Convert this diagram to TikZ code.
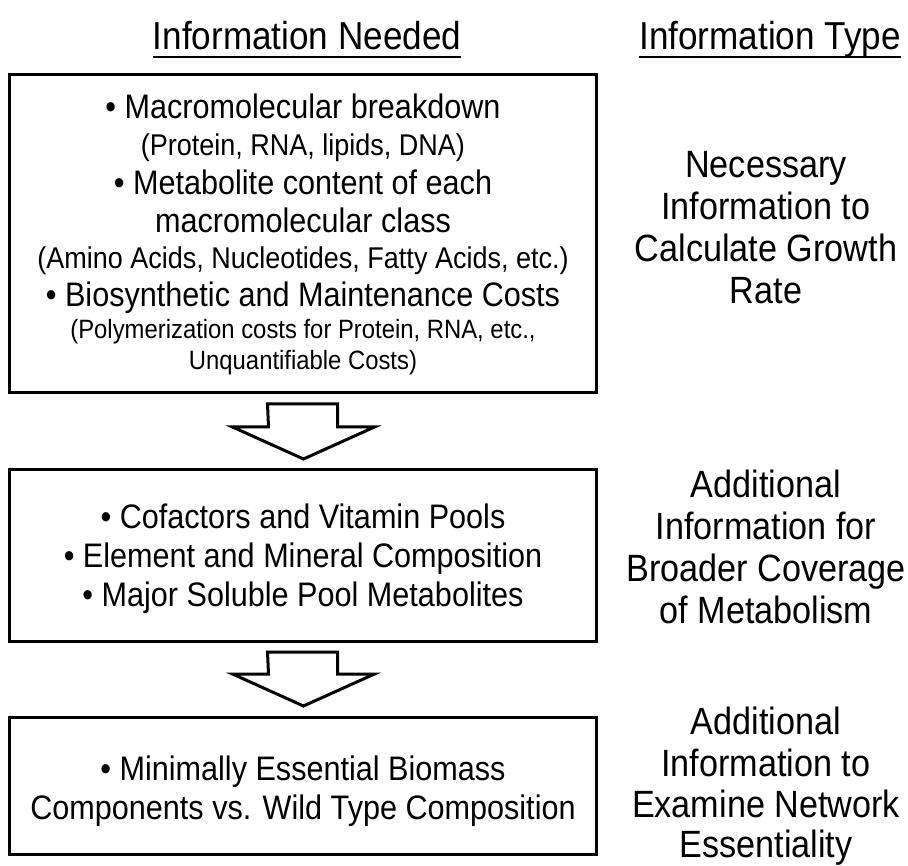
\documentclass[tikz,border=0pt]{standalone}
\usepackage{fontspec}
\setmainfont{Liberation Sans}[FakeStretch=0.9]
\usetikzlibrary{calc}
\begin{document}
\begin{tikzpicture}[x=1pt,y=-1pt,
  every node/.style={inner sep=0pt, outer sep=0pt},
  hdr/.style={anchor=base, font=\fontsize{39}{42}\selectfont},
  lab/.style={anchor=base, font=\fontsize{38}{40}\selectfont},
  maintxt/.style={anchor=base, font=\fontsize{34}{36}\selectfont},
  suba/.style={anchor=base, font=\fontsize{30}{32}\selectfont},
  subb/.style={anchor=base, font=\fontsize{26.5}{28}\selectfont},
  boxed/.style={draw, line width=3pt, minimum width=587pt},
  blockarrow/.style={draw, line width=3pt, fill=white, line join=miter},
  uline/.style={line width=2pt}]
\useasboundingbox (0,0) rectangle (908,866);
% headers
\node[hdr] (h1) at (307,50) {Information Needed};
\node[hdr] (h2) at (770,50) {Information Type};
\draw[uline] ([yshift=-7pt]h1.base west) -- ([yshift=-7pt]h1.base east);
\draw[uline] ([yshift=-7pt]h2.base west) -- ([yshift=-7pt]h2.base east);
% boxes
\node[boxed, minimum height=318pt] (b1) at (302.5,234) {};
\node[boxed, minimum height=171pt] (b2) at (302.5,555.5) {};
\node[boxed, minimum height=137pt] (b3) at (302.5,785.5) {};
% box 1 text
\node[maintxt] (t11) at (303,119) {• Macromolecular breakdown};
\node[suba]    (t12) at (303,156) {(Protein, RNA, lipids, DNA)};
\node[maintxt] (t13) at (303,195) {• Metabolite content of each};
\node[maintxt] (t14) at (303,233) {macromolecular class};
\node[suba]    (t15) at (303,269) {(Amino Acids, Nucleotides, Fatty Acids, etc.)};
\node[maintxt] (t16) at (303,307) {• Biosynthetic and Maintenance Costs};
\node[subb]    (t17) at (303,339) {(Polymerization costs for Protein, RNA, etc.,};
\node[subb]    (t18) at (303,370) {Unquantifiable Costs)};
% box 2 text
\node[maintxt] (t21) at (303,528) {• Cofactors and Vitamin Pools};
\node[maintxt] (t22) at (303,567) {• Element and Mineral Composition};
\node[maintxt] (t23) at (303,606) {• Major Soluble Pool Metabolites};
% box 3 text
\node[maintxt] (t31) at (303,780) {• Minimally Essential Biomass};
\node[maintxt] (t32) at (303,819) {Components vs. Wild Type Composition};
% right labels
\node[lab] (r11) at (766,178) {Necessary};
\node[lab] (r12) at (766,220) {Information to};
\node[lab] (r13) at (766,262) {Calculate Growth};
\node[lab] (r14) at (766,304) {Rate};
\node[lab] (r21) at (766,497) {Additional};
\node[lab] (r22) at (766,539) {Information for};
\node[lab] (r23) at (766,581) {Broader Coverage};
\node[lab] (r24) at (766,623) {of Metabolism};
\node[lab] (r31) at (766,734) {Additional};
\node[lab] (r32) at (766,776) {Information to};
\node[lab] (r33) at (766,817) {Examine Network};
\node[lab] (r34) at (766,857) {Essentiality};
% block arrows
\draw[blockarrow] ([shift={(-35,11)}]b1.south) -- ++(70,0) -- ++(0,23) -- ++(37,0)
  -- ++(-71,32) -- ++(-71,-32) -- ++(36,0) -- cycle;
\draw[blockarrow] ([shift={(-35,11)}]b2.south) -- ++(70,0) -- ++(0,22) -- ++(37,0)
  -- ++(-71,32) -- ++(-71,-32) -- ++(36,0) -- cycle;
\end{tikzpicture}
\end{document}
